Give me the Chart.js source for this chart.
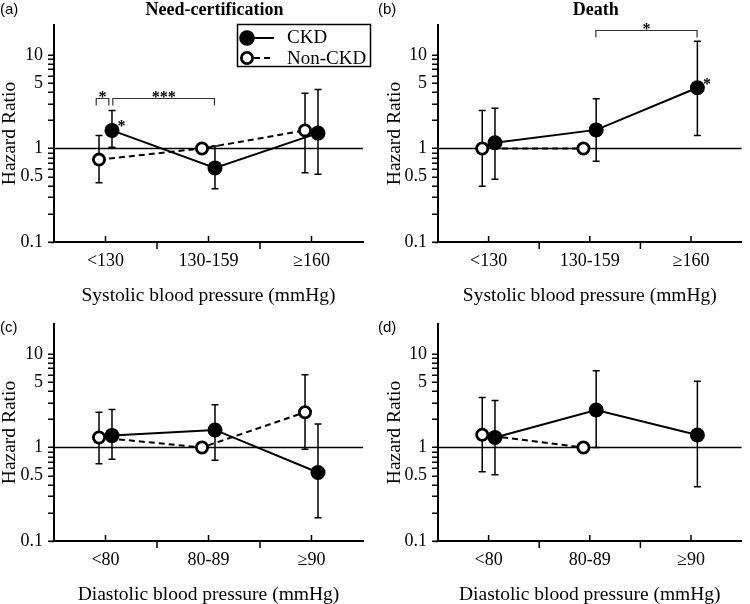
<!DOCTYPE html>
<html><head><meta charset="utf-8">
<script src="https://cdn.jsdelivr.net/npm/chart.js@4.4.1/dist/chart.umd.min.js"></script>
<style>
html,body{margin:0;padding:0;background:#fff;width:750px;height:604px;overflow:hidden;position:relative}
canvas{position:absolute}
</style></head><body>
<canvas id="ca" width="375" height="306" style="left:0;top:0"></canvas>
<canvas id="cb" width="375" height="306" style="left:375px;top:0"></canvas>
<canvas id="cc" width="375" height="306" style="left:0;top:299px"></canvas>
<canvas id="cd" width="375" height="306" style="left:375px;top:299px"></canvas>
<script>
// ---- data ----
const sysCats = ['<130', '130-159', '≥160'];
const diaCats = ['<80', '80-89', '≥90'];
const yTickVals = [0.1, 0.5, 1, 5, 10];

// (a) Need-certification, systolic
const ckdA = [1.56, 0.62, 1.46];
const ckdALo = [1.03, 0.37, 0.53];
const ckdAHi = [2.55, 1.06, 4.27];
const nonA = [0.76, 1.0, 1.56];
const nonALo = [0.43, null, 0.55];
const nonAHi = [1.38, null, 3.9];

// (b) Death, systolic
const ckdB = [1.15, 1.58, 4.46];
const ckdBLo = [0.47, 0.73, 1.38];
const ckdBHi = [2.7, 3.4, 14.0];
const nonB = [1.0, 1.0, null];
const nonBLo = [0.395, null, null];
const nonBHi = [2.55, null, null];

// (c) Need-certification, diastolic
const ckdC = [1.34, 1.54, 0.54];
const ckdCLo = [0.75, 0.73, 0.177];
const ckdCHi = [2.54, 2.87, 1.78];
const nonC = [1.28, 1.0, 2.38];
const nonCLo = [0.67, null, 0.96];
const nonCHi = [2.38, null, 6.0];

// (d) Death, diastolic
const ckdD = [1.28, 2.52, 1.36];
const ckdDLo = [0.51, 1.0, 0.38];
const ckdDHi = [3.17, 6.6, 5.1];
const nonD = [1.37, 1.0, null];
const nonDLo = [0.55, null, null];
const nonDHi = [3.43, null, null];

// significance annotations
const bracketsA = [{x1: -0.09, x2: 0.032, y: 3.5, text: '*'}, {x1: 0.071, x2: 1.058, y: 3.5, text: '***'}];
const bracketsB = [{x1: 1.06, x2: 2.06, y: 18.6, text: '*'}];
const starsA = [{series: 0, cat: 0}];
const starsB = [{series: 0, cat: 2}];

// ---- rendering ----
const SERIF = '"Liberation Serif", "Times New Roman", serif';
const SANS = '"Liberation Sans", Arial, sans-serif';
const DODGE = 0.063;

function pts(vals, lo, hi, dx) {
  const out = [];
  vals.forEach((v, i) => { if (v !== null) out.push({x: i + dx, y: v, lo: lo[i], hi: hi[i], cat: i}); });
  return out;
}

const deco = {
  id: 'deco',
  beforeDatasetsDraw(chart) {
    const {ctx, chartArea: ca, scales: {x, y}} = chart;
    ctx.save();
    ctx.strokeStyle = '#000';
    ctx.lineWidth = 1.5;
    const y1 = y.getPixelForValue(1);
    ctx.beginPath(); ctx.moveTo(ca.left, y1); ctx.lineTo(ca.right, y1); ctx.stroke();
    chart.data.datasets.forEach(ds => {
      ds.data.forEach(p => {
        if (p.lo == null || p.hi == null) return;
        const px = x.getPixelForValue(p.x);
        const pl = y.getPixelForValue(p.lo), ph = y.getPixelForValue(p.hi);
        ctx.beginPath();
        ctx.moveTo(px, pl); ctx.lineTo(px, ph);
        ctx.moveTo(px - 3.5, pl); ctx.lineTo(px + 3.5, pl);
        ctx.moveTo(px - 3.5, ph); ctx.lineTo(px + 3.5, ph);
        ctx.stroke();
      });
    });
    ctx.restore();
  },
  afterDraw(chart) {
    const {ctx, chartArea: ca, scales: {x, y}} = chart;
    const o = chart.options.plugins.deco;
    ctx.save();
    ctx.strokeStyle = '#000';
    ctx.lineWidth = 1.5;
    // y minor ticks (outside)
    ctx.beginPath();
    [0.1, 1].forEach(dec => {
      for (let k = 1; k <= 9; k++) {
        const v = dec * k;
        const py = Math.round(y.getPixelForValue(v)) + 0.25;
        ctx.moveTo(ca.left - 6, py); ctx.lineTo(ca.left, py);
      }
    });
    const p10 = Math.round(y.getPixelForValue(10)) + 0.25;
    ctx.moveTo(ca.left - 6, p10); ctx.lineTo(ca.left, p10);
    // x ticks: inward at category centres, outward at boundaries
    for (let i = 0; i < o.cats.length; i++) {
      const px = x.getPixelForValue(i);
      ctx.moveTo(px, ca.bottom); ctx.lineTo(px, ca.bottom - 6);
      if (i < o.cats.length - 1) {
        const pb = x.getPixelForValue(i + 0.5);
        ctx.moveTo(pb, ca.bottom); ctx.lineTo(pb, ca.bottom + 7);
      }
    }
    // x axis continues a little left of the y axis
    ctx.moveTo(ca.left - 4, ca.bottom + 0.5); ctx.lineTo(ca.left, ca.bottom + 0.5);
    ctx.stroke();

    // panel title
    ctx.fillStyle = '#000';
    if (o.title) {
      ctx.font = 'bold 18px ' + SERIF;
      ctx.textAlign = 'center'; ctx.textBaseline = 'middle';
      ctx.fillText(o.title, (ca.left + ca.right) / 2 + 6, 10);
    }
    // panel label
    ctx.font = '15px ' + SANS;
    ctx.textAlign = 'left'; ctx.textBaseline = 'middle';
    ctx.fillText(o.label, o.labelX, o.labelY);

    // brackets
    (o.brackets || []).forEach(b => {
      const xa = x.getPixelForValue(b.x1), xb = x.getPixelForValue(b.x2);
      const by = Math.round(y.getPixelForValue(b.y)) + 0.5;
      ctx.strokeStyle = '#333'; ctx.lineWidth = 1.2;
      ctx.beginPath();
      ctx.moveTo(xa, by + 7); ctx.lineTo(xa, by); ctx.lineTo(xb, by); ctx.lineTo(xb, by + 7);
      ctx.stroke();
      ctx.font = 'bold 16px ' + SERIF;
      ctx.textAlign = 'center'; ctx.textBaseline = 'alphabetic';
      ctx.fillText(b.text, (xa + xb) / 2, by + 3);
    });
    // stars next to points
    (o.stars || []).forEach(s => {
      const ds = chart.data.datasets[s.series];
      const p = ds.data.find(d => d.cat === s.cat);
      const px = x.getPixelForValue(p.x), py = y.getPixelForValue(p.y);
      ctx.font = 'bold 16px ' + SERIF;
      ctx.textAlign = 'center'; ctx.textBaseline = 'alphabetic';
      ctx.fillText('*', px + 9.5, py + 1);
    });

    // legend
    if (o.legend) {
      ctx.strokeStyle = '#000'; ctx.lineWidth = 1.5;
      ctx.strokeRect(237.5, 24.5, 133, 42);
      ctx.lineWidth = 2;
      ctx.beginPath(); ctx.moveTo(247, 38); ctx.lineTo(274, 38); ctx.stroke();
      ctx.beginPath(); ctx.arc(247, 38, 7.8, 0, Math.PI * 2); ctx.fill();
      ctx.setLineDash([6, 4]);
      ctx.beginPath(); ctx.moveTo(254, 58); ctx.lineTo(274, 58); ctx.stroke();
      ctx.setLineDash([]);
      ctx.lineWidth = 2.8;
      ctx.beginPath(); ctx.arc(247, 58, 5.6, 0, Math.PI * 2);
      ctx.fillStyle = '#fff'; ctx.fill(); ctx.stroke();
      ctx.fillStyle = '#000';
      ctx.font = '19px ' + SERIF;
      ctx.textAlign = 'left'; ctx.textBaseline = 'middle';
      ctx.fillText('CKD', 287, 38);
      ctx.fillText('Non-CKD', 287, 59);
    }
    ctx.restore();
  }
};

function makePanel(cfg) {
  const yW = cfg.chartLeft - cfg.padLeft;
  return new Chart(document.getElementById(cfg.id), {
    type: 'line',
    data: {
      datasets: [
        {label: 'CKD', data: pts(cfg.ckd, cfg.ckdLo, cfg.ckdHi, DODGE),
         borderColor: '#000', borderWidth: 2, backgroundColor: '#000',
         pointRadius: 7.5, pointHoverRadius: 7.5, pointBackgroundColor: '#000', pointBorderWidth: 0, order: 1},
        {label: 'Non-CKD', data: pts(cfg.non, cfg.nonLo, cfg.nonHi, -DODGE),
         borderColor: '#000', borderWidth: 2, borderDash: [6, 4], backgroundColor: '#fff',
         pointRadius: 5.6, pointHoverRadius: 5.6, pointBackgroundColor: '#fff', pointBorderColor: '#000', pointBorderWidth: 2.8, order: 0}
      ]
    },
    options: {
      responsive: false, animation: false, devicePixelRatio: 1,
      layout: {padding: {left: cfg.padLeft, right: cfg.padRight, top: 25, bottom: 0}},
      plugins: {
        legend: {display: false}, tooltip: {enabled: false},
        deco: {cats: cfg.cats, title: cfg.title, label: cfg.label, labelX: cfg.labelX, labelY: cfg.labelY,
               legend: cfg.legend, brackets: cfg.brackets, stars: cfg.stars}
      },
      scales: {
        x: {
          type: 'linear', min: -0.5, max: 2.5,
          grid: {display: false, drawTicks: false},
          border: {display: true, color: '#000', width: 2},
          afterBuildTicks: s => { s.ticks = cfg.cats.map((c, i) => ({value: i})); },
          afterFit: s => { s.height = 306 - 242; },
          ticks: {padding: 8, color: '#000', font: {family: SERIF, size: 18}, maxRotation: 0,
                  callback: v => cfg.cats[Math.round(v)]},
          title: {display: true, text: cfg.xTitle, color: '#000', font: {family: SERIF, size: 19.5, lineHeight: 1}, padding: {top: 0, bottom: 0}}
        },
        y: {
          type: 'logarithmic', min: 0.1, max: 20.9,
          grid: {display: false, drawTicks: false},
          border: {display: true, color: '#000', width: 2},
          afterBuildTicks: s => { s.ticks = yTickVals.map(v => ({value: v})); },
          afterFit: s => { s.width = yW; },
          ticks: {padding: 11, color: '#000', font: {family: SERIF, size: 18}, callback: v => String(v)},
          title: {display: true, text: 'Hazard Ratio', color: '#000', font: {family: SERIF, size: 19.5, lineHeight: 1}, padding: 0}
        }
      }
    },
    plugins: [deco]
  });
}

makePanel({id: 'ca', cats: sysCats, ckd: ckdA, ckdLo: ckdALo, ckdHi: ckdAHi, non: nonA, nonLo: nonALo, nonHi: nonAHi,
  title: 'Need-certification', label: '(a)', labelX: 0, labelY: 10, xTitle: 'Systolic blood pressure (mmHg)',
  legend: true, brackets: bracketsA, stars: starsA, chartLeft: 54, padLeft: 0, padRight: 12});
makePanel({id: 'cb', cats: sysCats, ckd: ckdB, ckdLo: ckdBLo, ckdHi: ckdBHi, non: nonB, nonLo: nonBLo, nonHi: nonBHi,
  title: 'Death', label: '(b)', labelX: 3, labelY: 10, xTitle: 'Systolic blood pressure (mmHg)',
  legend: false, brackets: bracketsB, stars: starsB, chartLeft: 63, padLeft: 10, padRight: 2});
makePanel({id: 'cc', cats: diaCats, ckd: ckdC, ckdLo: ckdCLo, ckdHi: ckdCHi, non: nonC, nonLo: nonCLo, nonHi: nonCHi,
  title: null, label: '(c)', labelX: 0, labelY: 29, xTitle: 'Diastolic blood pressure (mmHg)',
  legend: false, brackets: [], stars: [], chartLeft: 54, padLeft: 0, padRight: 12});
makePanel({id: 'cd', cats: diaCats, ckd: ckdD, ckdLo: ckdDLo, ckdHi: ckdDHi, non: nonD, nonLo: nonDLo, nonHi: nonDHi,
  title: null, label: '(d)', labelX: 3, labelY: 29, xTitle: 'Diastolic blood pressure (mmHg)',
  legend: false, brackets: [], stars: [], chartLeft: 63, padLeft: 10, padRight: 2});
</script>
</body></html>
